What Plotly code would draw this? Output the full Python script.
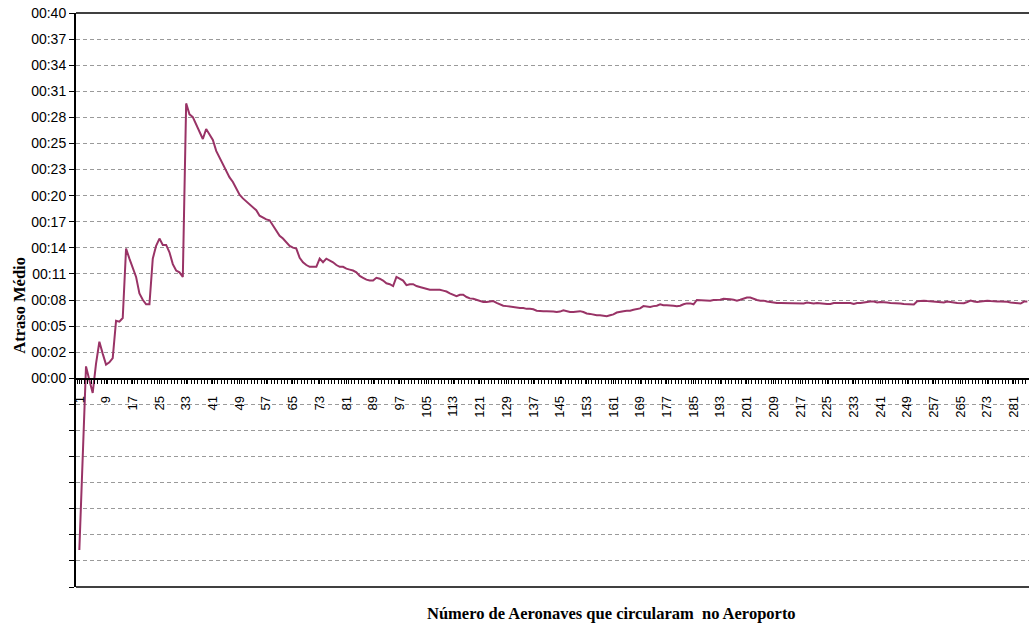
import plotly.graph_objects as go

# Number of aircraft (categories)
aircraft = list(range(1, 286))

# Average delay in minutes
delay_min = [
    -18.8, -8.7, 1.3, -0.2, -1.6, 1.6, 4.0, 2.7, 1.5, 1.75,
    2.2, 6.3, 6.2, 6.6, 14.2, 13.1, 12.2, 11.1, 9.3, 8.6,
    8.1, 8.1, 13.1, 14.5, 15.3, 14.6, 14.6, 13.8, 12.5, 11.8,
    11.6, 11.1, 30.1, 28.9, 28.6, 27.8, 26.9, 26.2, 27.3, 26.7,
    26.1, 24.9, 24.2, 23.4, 22.7, 22.0, 21.5, 20.8, 20.1, 19.7,
    19.4, 19.1, 18.7, 18.4, 17.8, 17.6, 17.4, 17.3, 16.7, 16.2,
    15.6, 15.3, 14.9, 14.5, 14.3, 14.2, 13.2, 12.7, 12.4, 12.2,
    12.2, 12.2, 13.1, 12.7, 13.1, 12.9, 12.7, 12.4, 12.2, 12.2,
    12.0, 11.9, 11.8, 11.6, 11.2, 11.0, 10.8, 10.7, 10.7, 11.0,
    10.9, 10.7, 10.4, 10.3, 10.1, 11.1, 10.9, 10.7, 10.2, 10.3,
    10.3, 10.1, 10.0, 9.9, 9.8, 9.7, 9.7, 9.7, 9.7, 9.6,
    9.5, 9.3, 9.15, 9.0, 9.15, 9.15, 8.9, 8.75, 8.7, 8.6,
    8.45, 8.35, 8.35, 8.4, 8.45, 8.25, 8.07, 7.95, 7.9, 7.85,
    7.8, 7.7, 7.7, 7.7, 7.6, 7.6, 7.55, 7.4, 7.35, 7.35,
    7.35, 7.35, 7.3, 7.25, 7.3, 7.45, 7.35, 7.25, 7.25, 7.3,
    7.35, 7.25, 7.1, 7.05, 6.95, 6.9, 6.9, 6.85, 6.8, 6.9,
    7.0, 7.2, 7.3, 7.35, 7.4, 7.4, 7.5, 7.55, 7.65, 7.9,
    7.85, 7.8, 7.9, 7.95, 8.1, 8.0, 8.0, 8.0, 7.95, 7.9,
    7.95, 8.1, 8.2, 8.2, 8.1, 8.57, 8.55, 8.5, 8.5, 8.5,
    8.57, 8.57, 8.6, 8.7, 8.7, 8.65, 8.6, 8.5, 8.6, 8.7,
    8.85, 8.85, 8.7, 8.57, 8.5, 8.5, 8.4, 8.35, 8.25, 8.25,
    8.25, 8.25, 8.25, 8.25, 8.25, 8.25, 8.25, 8.2, 8.3, 8.25,
    8.2, 8.25, 8.2, 8.14, 8.14, 8.14, 8.25, 8.25, 8.25, 8.25,
    8.25, 8.25, 8.14, 8.25, 8.25, 8.32, 8.4, 8.4, 8.4, 8.3,
    8.35, 8.35, 8.3, 8.25, 8.25, 8.25, 8.2, 8.14, 8.14, 8.14,
    8.07, 8.43, 8.5, 8.5, 8.46, 8.43, 8.4, 8.4, 8.4, 8.3,
    8.4, 8.38, 8.3, 8.25, 8.2, 8.22, 8.35, 8.5, 8.4, 8.35,
    8.4, 8.46, 8.5, 8.46, 8.4, 8.4, 8.4, 8.4, 8.38, 8.3,
    8.25, 8.2, 8.18, 8.4, 8.4,
]

# X tick labels
x_ticks = [1, 9, 17, 25, 33, 41, 49, 57, 65, 73, 81, 89, 97, 105, 113, 121,
           129, 137, 145, 153, 161, 169, 177, 185, 193, 201, 209, 217, 225,
           233, 241, 249, 257, 265, 273, 281]

# Y axis: gridline step (minutes) and labels (negative gridlines unlabeled)
y_step = 40 / 14
y_tick_index = list(range(-8, 15))
y_tick_text = ["00:00", "00:02", "00:05", "00:08", "00:11", "00:14", "00:17",
               "00:20", "00:23", "00:25", "00:28", "00:31", "00:34", "00:37", "00:40"]

y_tickvals = [k * y_step for k in y_tick_index]
y_ticktext = [""] * 8 + y_tick_text

LINE_COLOR = "#993366"
SANS = "Liberation Sans, Arial, sans-serif"
SERIF = "Liberation Serif, Times New Roman, serif"

# The original chart area runs past the right edge of the picture
FIG_W, FIG_H = 1044, 625
M_L = 76
PX_PER_CAT = 3.338
x_max = (FIG_W - M_L) / PX_PER_CAT

fig = go.Figure()
fig.add_trace(go.Scatter(
    x=aircraft, y=delay_min, mode="lines",
    line=dict(color=LINE_COLOR, width=2),
    showlegend=False, hoverinfo="skip",
))

fig.update_layout(
    width=FIG_W, height=FIG_H,
    margin=dict(l=M_L, r=0, t=13, b=38),
    paper_bgcolor="white", plot_bgcolor="white",
    hovermode=False, dragmode=False,
    font=dict(family=SANS, size=13, color="black"),
    xaxis=dict(
        range=[0, x_max], automargin=False, showspikes=False,
        anchor="free", position=8 / 22,
        tickmode="array", tickvals=x_ticks, ticktext=[str(v) for v in x_ticks],
        tickangle=-90,
        ticks="outside", ticklen=4, tickcolor="black", tickwidth=1,
        minor=dict(tick0=0.5, dtick=1, ticks="outside", ticklen=4,
                   tickcolor="black", tickwidth=1, showgrid=False),
        ticklabelstandoff=7,
        showline=True, linecolor="black", linewidth=1.5,
        showgrid=False, zeroline=False,
        tickfont=dict(family=SANS, size=13, color="black"),
    ),
    yaxis=dict(
        range=[-8 * y_step, 40], domain=[0, 1], automargin=False, showspikes=False,
        tickmode="array", tickvals=y_tickvals, ticktext=y_ticktext,
        ticks="outside", ticklen=5, tickcolor="black", tickwidth=1,
        showline=True, linecolor="black", linewidth=2,
        showgrid=True, gridcolor="#9a9a9a", gridwidth=1, griddash="4px,3px",
        zeroline=False,
        tickfont=dict(family=SANS, size=14, color="black"),
    ),
    shapes=[
        dict(type="line", xref="paper", yref="paper", x0=0, x1=1, y0=1, y1=1,
             line=dict(color="black", width=1.5)),
        dict(type="line", xref="paper", yref="paper", x0=0, x1=1, y0=0, y1=0,
             line=dict(color="black", width=1.5)),
    ],
    annotations=[
        dict(text="<b>Atraso Médio</b>", xref="paper", yref="paper",
             x=(20 - M_L) / (FIG_W - M_L), y=0.49, xanchor="center", yanchor="middle",
             textangle=-90, showarrow=False,
             font=dict(family=SERIF, size=16.5, color="black")),
        dict(text="<b>Número de Aeronaves que circularam\u00a0 no Aeroporto</b>",
             xref="paper", yref="paper", x=(611 - M_L) / (FIG_W - M_L), y=-0.047,
             xanchor="center", yanchor="middle", showarrow=False,
             font=dict(family=SERIF, size=16.5, color="black")),
    ],
)

fig.write_html(
    "out.html",
    config={"displayModeBar": False, "staticPlot": True},
    post_script=(
        "document.body.style.margin='0';"
        "document.body.style.overflow='hidden';"
        "document.documentElement.style.overflow='hidden';"
    ),
)
